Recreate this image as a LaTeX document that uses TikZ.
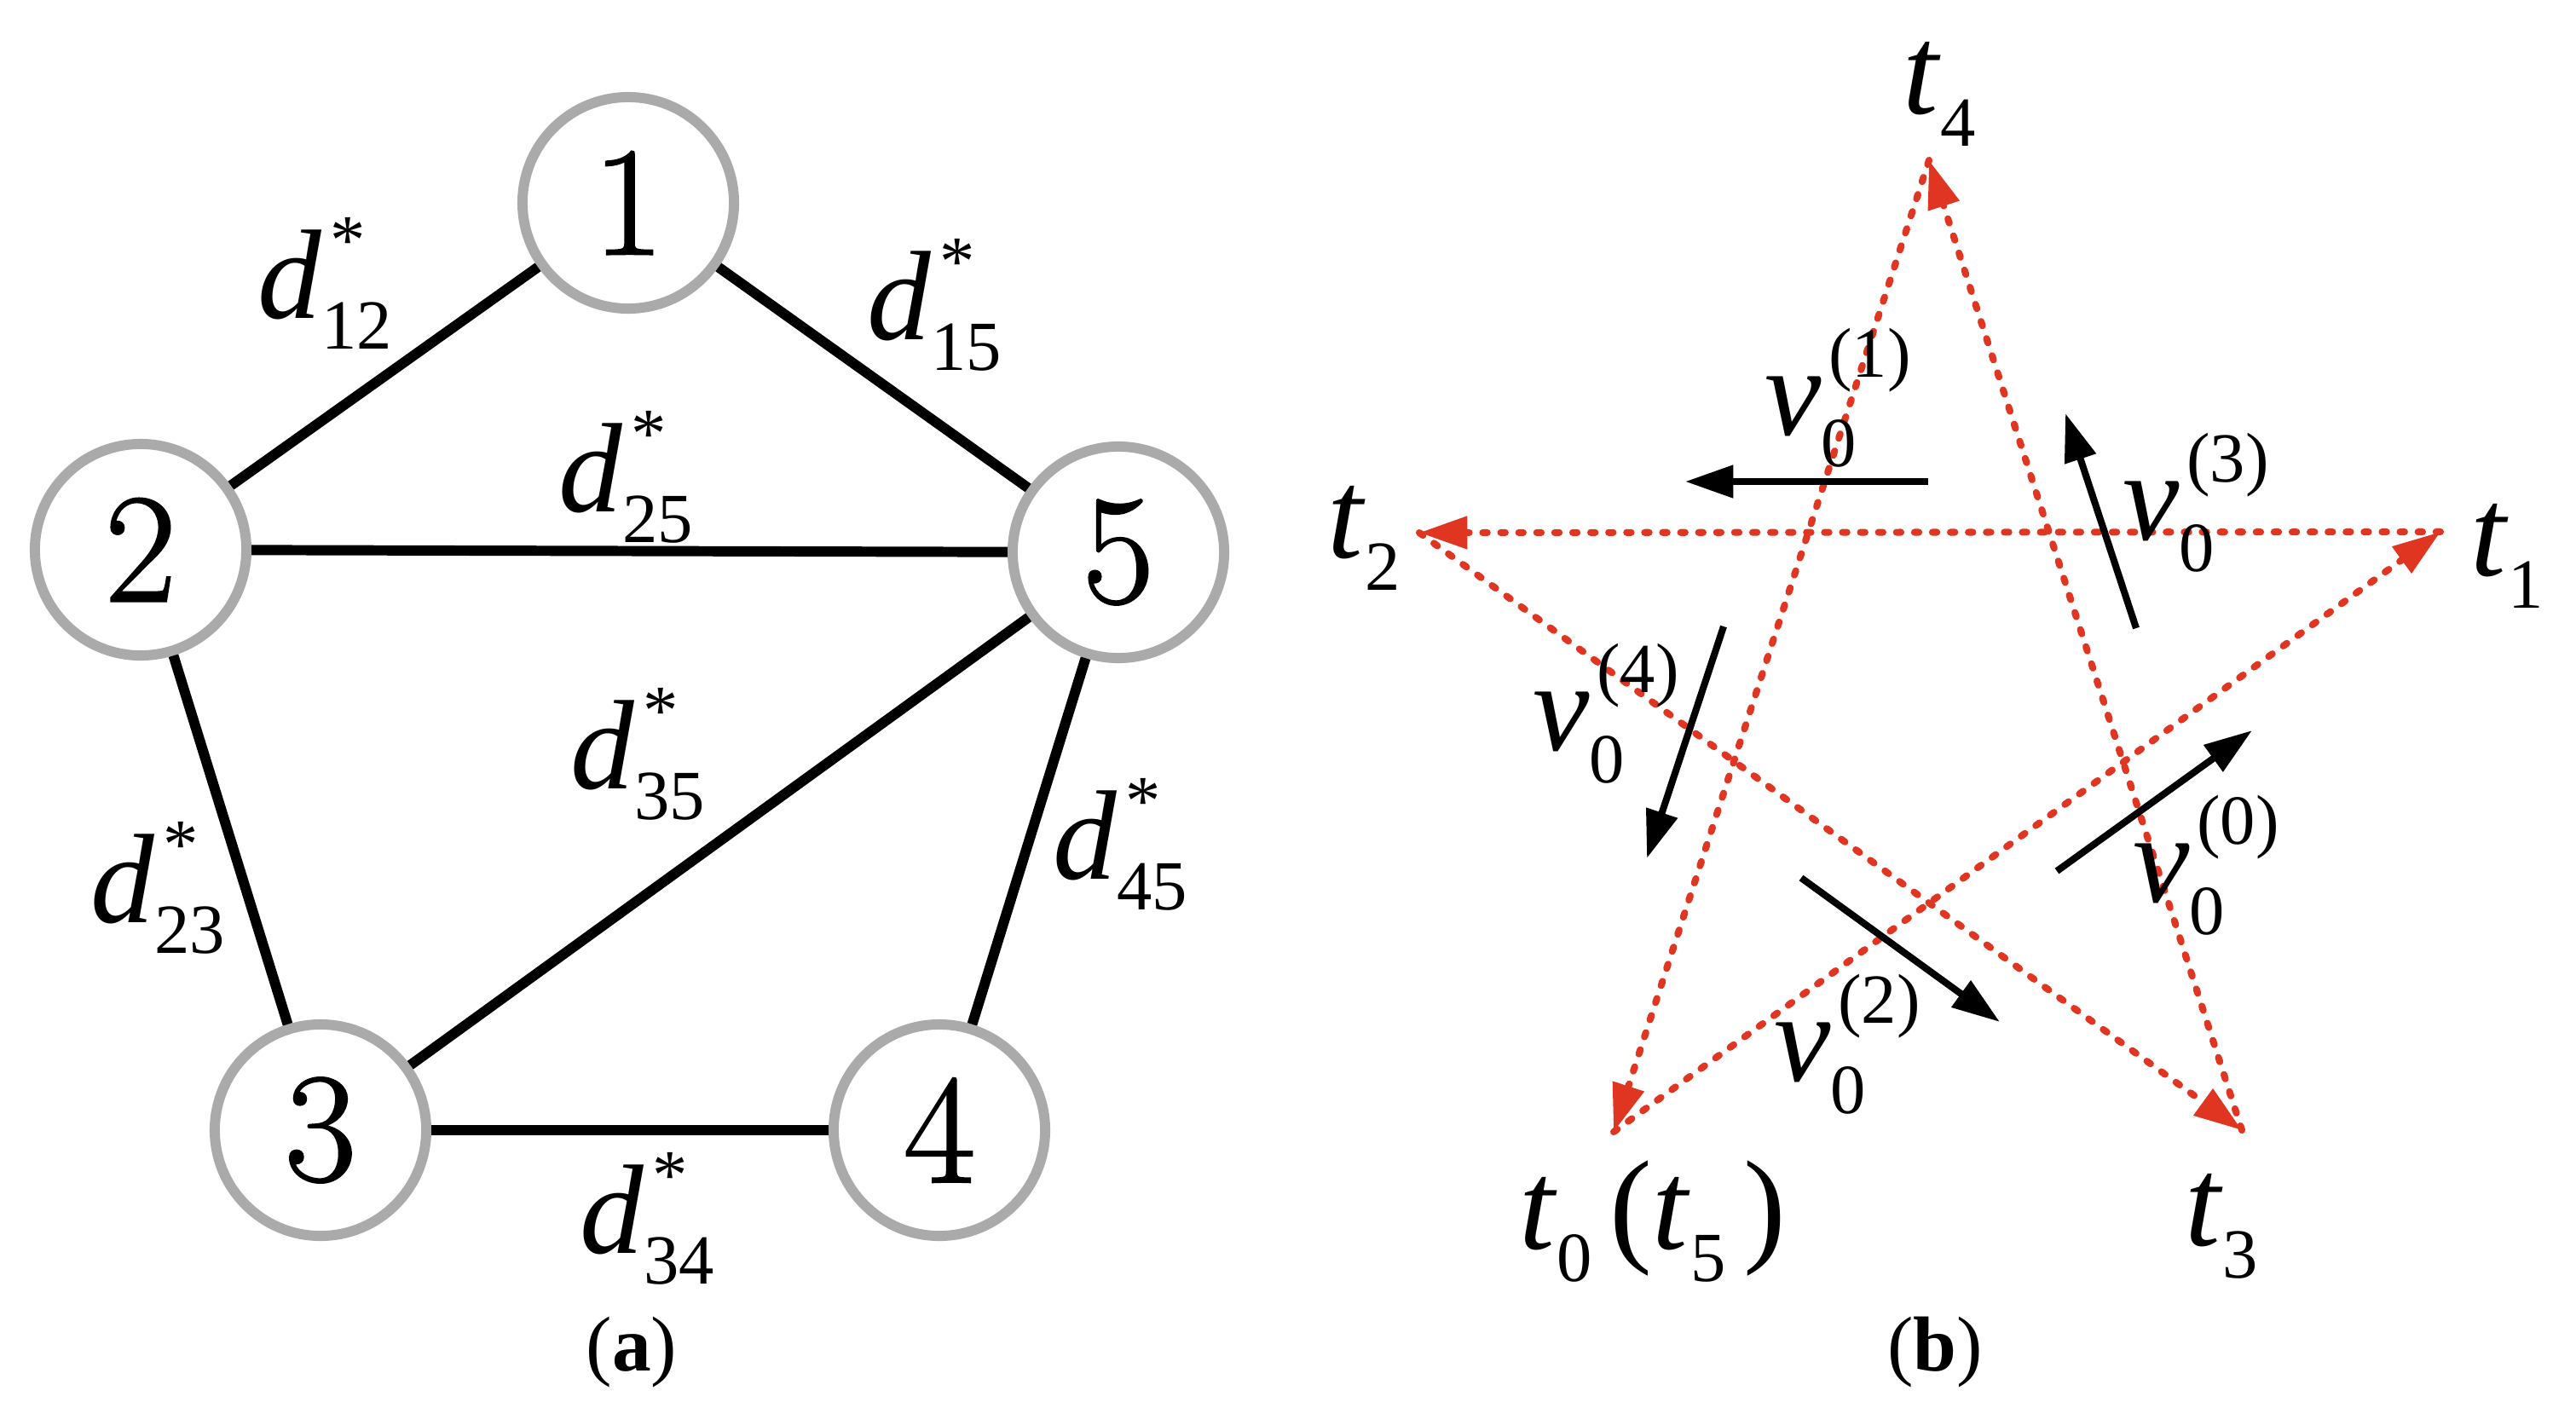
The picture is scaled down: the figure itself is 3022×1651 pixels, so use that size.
\documentclass[tikz,border=0pt]{standalone}
\usepackage{fontspec}
\newfontfamily\tnr{Liberation Serif}
\newfontfamily\lmheavy[FakeBold=1.2]{Latin Modern Roman}
\usetikzlibrary{arrows.meta}
\definecolor{starred}{RGB}{224,53,32}
\definecolor{ringgray}{RGB}{170,170,170}
\newcommand\fsL{\fontsize{42.5}{42.5}\selectfont}
\newcommand\fsS{\fontsize{23.5}{23.5}\selectfont}
\newcommand\dlab[1]{\tnr\fsL\textit{d}\rlap{\kern3pt\raisebox{18pt}{\fsS *}}\raisebox{-10.5pt}{\fsS #1}}
\newcommand\tlab[1]{\tnr\fsL\textit{t}\raisebox{-11pt}{\fsS #1}}
\newcommand\vlab[1]{\tnr\fsL\textit{v}\rlap{\raisebox{-10.8pt}{\fsS 0}}\kern2.5pt\raisebox{19.3pt}{\fsS (#1)}}
\begin{document}
\begin{tikzpicture}[x=0.01cm,y=-0.01cm,
  vert/.style={circle,draw=ringgray,line width=3.4pt,minimum size=2.48cm,inner sep=0pt,
    font=\lmheavy\fontsize{52}{52}\selectfont},
  edgeline/.style={line width=3.4pt,black},
  lab/.style={anchor=base west,inner sep=0pt,outer sep=0pt},
  reddash/.style={starred,line width=2.3pt,dash pattern=on 1.5pt off 4.5pt,line cap=round,
    -{Triangle[length=16pt,width=10.5pt]}},
  velo/.style={black,line width=2.3pt,-{Triangle[length=16pt,width=10.5pt]}},
  captext/.style={anchor=base,inner sep=0pt,font=\tnr\fontsize{26}{26}\selectfont}]
\useasboundingbox (0,0) rectangle (3022,1651);
% ---------- (a) ----------
\node[vert] (n1) at (737,238) {1};
\node[vert] (n2) at (165,645) {2};
\node[vert] (n5) at (1312,648) {5};
\node[vert] (n3) at (376,1326) {3};
\node[vert] (n4) at (1102,1326) {4};
\draw[edgeline] (n1) -- (n2);
\draw[edgeline] (n1) -- (n5);
\draw[edgeline] (n2) -- (n5);
\draw[edgeline] (n2) -- (n3);
\draw[edgeline] (n3) -- (n5);
\draw[edgeline] (n5) -- (n4);
\draw[edgeline] (n3) -- (n4);
\node[lab] (l12) at (302,373) {\dlab{12}};
\node[lab] (l15) at (1017,398) {\dlab{15}};
\node[lab] (l25) at (655,600) {\dlab{25}};
\node[lab] (l35) at (669,925) {\dlab{35}};
\node[lab] (l23) at (106,1082) {\dlab{23}};
\node[lab] (l45) at (1235,1031) {\dlab{45}};
\node[lab] (l34) at (680,1470) {\dlab{34}};
\node[captext] (capa) at (741,1608) {(\textbf{a})};
% ---------- (b) ----------
\coordinate (T4) at (2263,188);
\coordinate (T2) at (1665,625);
\coordinate (T1) at (2863,624);
\coordinate (T0) at (1893,1328);
\coordinate (T3) at (2630,1326);
\draw[reddash] (T0) -- (T1);
\draw[reddash] (T1) -- (T2);
\draw[reddash] (T2) -- (T3);
\draw[reddash] (T3) -- (T4);
\draw[reddash] (T4) -- (T0);
\node[lab] (t4) at (2232,133) {\tlab{4}};
\node[lab] (t1) at (2898,675) {\tlab{1}};
\node[lab] (t2) at (1557,654) {\tlab{2}};
\node[lab] (t3) at (2563,1461) {\tlab{3}};
\node[lab] (t0) at (1782,1465) {\tnr\fsL\textit{t}\raisebox{-11pt}{\fsS 0}\kern6pt(\textit{t}\raisebox{-11pt}{\fsS 5}\kern6pt)};
% velocity arrows
\coordinate (a1s) at (2262,565); \coordinate (a1e) at (1977,565);
\coordinate (a3s) at (2506,737); \coordinate (a3e) at (2423,485);
\coordinate (a4s) at (2022,735); \coordinate (a4e) at (1932,1007);
\coordinate (a0s) at (2413,1022); \coordinate (a0e) at (2642,857);
\coordinate (a2s) at (2113,1030); \coordinate (a2e) at (2346,1199);
\draw[velo] (a1s) -- (a1e);
\draw[velo] (a3s) -- (a3e);
\draw[velo] (a4s) -- (a4e);
\draw[velo] (a0s) -- (a0e);
\draw[velo] (a2s) -- (a2e);
\node[lab] (v1) at (2070,510) {\vlab{1}};
\node[lab] (v3) at (2490,633) {\vlab{3}};
\node[lab] (v4) at (1798,880) {\vlab{4}};
\node[lab] (v0) at (2502,1058) {\vlab{0}};
\node[lab] (v2) at (2081,1268) {\vlab{2}};
\node[captext] (capb) at (2270,1608) {(\textbf{b})};
\end{tikzpicture}
\end{document}
